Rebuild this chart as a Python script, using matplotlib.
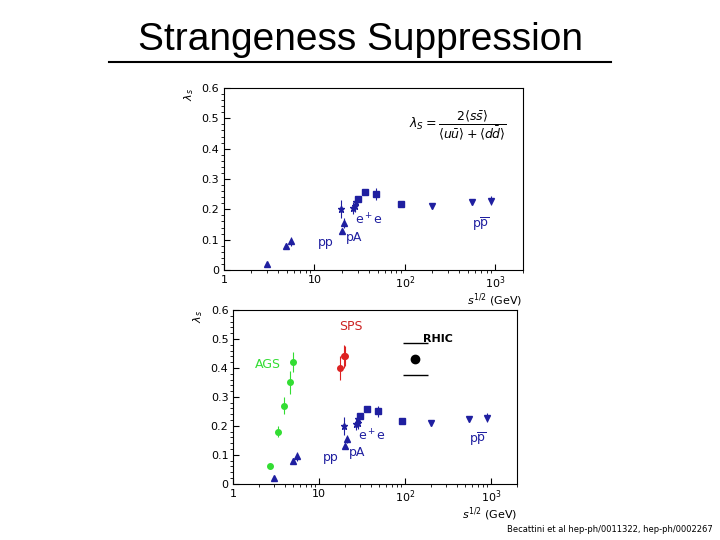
import matplotlib
matplotlib.use('Agg')
import matplotlib.pyplot as plt

pp_x=[3,4.9,5.5,20,21]; pp_y=[0.02,0.08,0.095,0.13,0.155]; pp_e=[0.005,0.01,0.015,0.01,0.015]
pA_x=[19.5,27,28,28.5]; pA_y=[0.2,0.205,0.21,0.225]; pA_e=[0.03,0.02,0.02,0.02]
ee_x=[30,36,48,91]; ee_y=[0.235,0.258,0.25,0.218]; ee_e=[0.01,0.008,0.02,0.005]
ppb_x=[200,546,900]; ppb_y=[0.21,0.225,0.228]; ppb_e=[0.01,0.01,0.015]
ags_x=[2.7,3.3,3.9,4.6,4.9]; ags_y=[0.06,0.18,0.27,0.35,0.42]; ags_e=[0.008,0.02,0.03,0.04,0.035]
sps_x=[17.3,19.4,20.2]; sps_y=[0.40,0.44,0.44]; sps_e=[0.04,0.04,0.035]
rhic_x=[130]; rhic_y=[0.43]; rhic_e=[0.055]

fig=plt.figure(figsize=(7.2,5.4),dpi=100)
fig.text(0.5,0.926,'Strangeness Suppression',ha='center',va='center',fontsize=28,family='Liberation Sans')
fig.add_artist(plt.Line2D([0.151,0.849],[0.885,0.885],color='k',lw=1.5))
fig.text(0.99,0.015,'Becattini et al hep-ph/0011322, hep-ph/0002267',ha='right',fontsize=6)
blue='#1f1fa0'

def base(ax):
    ax.set_xscale('log'); ax.set_xlim(1,2000); ax.set_ylim(0,0.6)
    ax.set_xticks([1,10,100,1000]); ax.set_xticklabels(['1','10','$10^2$','$10^3$'],fontsize=8)
    ax.set_yticks([0,0.1,0.2,0.3,0.4,0.5,0.6]); ax.set_yticklabels(['0','0.1','0.2','0.3','0.4','0.5','0.6'],fontsize=8)
    ax.tick_params(direction='in',length=4,top=False,right=False)
    ax.minorticks_on()
    ax.set_ylabel(r'$\lambda_s$',fontsize=8,loc='top')
    ax.set_xlabel(r'$s^{1/2}$ (GeV)',fontsize=8,loc='right',labelpad=0)
    ax.errorbar(pp_x,pp_y,yerr=pp_e,fmt='^',color=blue,ms=4,lw=0.8)
    ax.errorbar(pA_x,pA_y,yerr=pA_e,fmt='*',color=blue,ms=5,lw=0.8)
    ax.errorbar(ee_x,ee_y,yerr=ee_e,fmt='s',color=blue,ms=4,lw=0.8)
    ax.errorbar(ppb_x,ppb_y,yerr=ppb_e,fmt='v',color=blue,ms=4,lw=0.8)
    for t,x,y in [('pp',11,0.08),('pA',22,0.095),('e$^+$e',28,0.15),('p$\\overline{\\rm p}$',550,0.14)]:
        ax.text(x,y,t,color=blue,fontsize=9)

ax1=fig.add_axes([0.311,0.5,0.415,0.337]); base(ax1)
ax1.text(0.62,0.78,r'$\lambda_S=\dfrac{2\langle s\bar{s}\rangle}{\langle u\bar{u}\rangle+\langle d\bar{d}\rangle}$',transform=ax1.transAxes,fontsize=9,family='serif')
ax2=fig.add_axes([0.324,0.104,0.394,0.322]); base(ax2)
ax2.errorbar(ags_x,ags_y,yerr=ags_e,fmt='o',color='#33dd33',ms=4,lw=0.8)
ax2.errorbar(sps_x,sps_y,yerr=sps_e,fmt='o',color='#dd2222',ms=4,lw=0.8)
ax2.errorbar(rhic_x,rhic_y,yerr=rhic_e,fmt='o',color='k',ms=6,lw=0,elinewidth=0,capsize=9,capthick=1)
ax2.text(1.8,0.4,'AGS',color='#33dd33',fontsize=9)
ax2.text(17,0.53,'SPS',color='#cc2222',fontsize=9)
ax2.text(160,0.49,'RHIC',color='k',fontsize=8,weight='bold')
fig.savefig('out.png')
